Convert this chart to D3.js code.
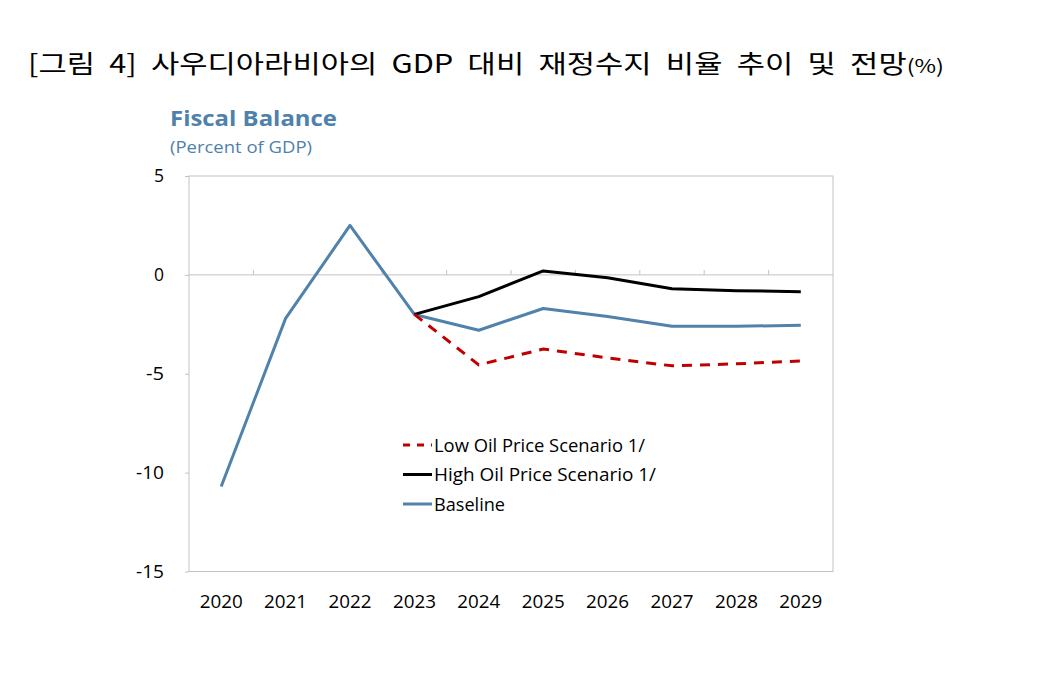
<!DOCTYPE html>
<html><head><meta charset="utf-8">
<script src="https://cdn.jsdelivr.net/npm/d3@7"></script>
<style>
body{margin:0;background:#fff;}
svg{display:block;}
</style></head>
<body><svg id="c" width="1060" height="681"></svg>
<script>
const years = ["2020","2021","2022","2023","2024","2025","2026","2027","2028","2029"];
const baseline = [-10.7,-2.2,2.5,-2.0,-2.8,-1.7,-2.1,-2.6,-2.6,-2.55];
const highOil = [null,null,null,-2.0,-1.1,0.2,-0.15,-0.7,-0.8,-0.85];
const lowOil = [null,null,null,-2.0,-4.55,-3.75,-4.2,-4.6,-4.5,-4.35];
const yTicks = [5,0,-5,-10,-15];
const legendLabels = ["Low Oil Price Scenario 1/","High Oil Price Scenario 1/","Baseline"];

const svg = d3.select("#c");
const L=189, R=833, T=176, B=571.5;
const x = d3.scaleBand().domain(years).range([L,R]);
const y = d3.scaleLinear().domain([-15,5]).range([B,T]);
const cx = d => x(d)+x.bandwidth()/2;
const FONT = "'Open Sans', sans-serif";

// title
const title = svg.append("text").attr("x",28).attr("y",73)
  .attr("font-family","'Noto Sans CJK KR', sans-serif").attr("font-size",25).attr("fill","#000")
  .attr("word-spacing",6)
  .attr("textLength",916).attr("lengthAdjust","spacingAndGlyphs");
title.append("tspan").text("[그림 4] 사우디아라비아의 GDP 대비 재정수지 비율 추이 및 전망");
title.append("tspan").attr("font-size",19).text("(%)");

svg.append("text").attr("x",170).attr("y",126).attr("font-family",FONT)
  .attr("font-weight","bold").attr("font-size",21).attr("fill","#4f81aa").attr("textLength",167).attr("lengthAdjust","spacingAndGlyphs").text("Fiscal Balance");
svg.append("text").attr("x",170).attr("y",153).attr("font-family",FONT)
  .attr("font-size",15.5).attr("fill","#4f81aa").attr("textLength",142).attr("lengthAdjust","spacingAndGlyphs").text("(Percent of GDP)");

// frame
svg.append("rect").attr("x",L).attr("y",T).attr("width",R-L).attr("height",B-T)
  .attr("fill","none").attr("stroke","#c3c3c3").attr("stroke-width",1);

// y axis
const yAxis = d3.axisLeft(y).tickValues(yTicks).tickSize(4).tickPadding(21).tickFormat(d3.format("d"));
const ya = svg.append("g").attr("transform",`translate(${L},0)`).call(yAxis);
ya.select(".domain").remove();
ya.selectAll("line").attr("stroke","#c3c3c3");
ya.selectAll("text").attr("font-family",FONT).attr("font-size",18.5).attr("fill","#000")
  .text(d=> d<0 ? "-"+Math.abs(d) : d)
  .attr("textLength",d=> d<0 ? (Math.abs(d)>=10 ? 28 : 18) : 10).attr("lengthAdjust","spacingAndGlyphs");

// zero line with category ticks
svg.append("line").attr("x1",L).attr("x2",R).attr("y1",y(0)).attr("y2",y(0)).attr("stroke","#c3c3c3");
svg.append("g").selectAll("line").data(years.slice(1)).join("line")
  .attr("x1",d=>x(d)).attr("x2",d=>x(d)).attr("y1",y(0)).attr("y2",y(0)-5).attr("stroke","#c3c3c3");

// x labels
const xb = d3.axisBottom(x).tickSize(0).tickPadding(23);
const xa = svg.append("g").attr("transform",`translate(0,${B})`).call(xb);
xa.select(".domain").remove();
xa.selectAll("text").attr("font-family",FONT).attr("font-size",18.5).attr("fill","#000")
  .attr("textLength",43).attr("lengthAdjust","spacingAndGlyphs");

const line = d3.line().defined(d=>d.v!=null).x(d=>cx(d.k)).y(d=>y(d.v));
const mk = arr => years.map((k,i)=>({k, v:arr[i]}));

svg.append("path").datum(mk(baseline)).attr("d",line).attr("fill","none")
  .attr("stroke","#5082ab").attr("stroke-width",3).attr("stroke-linejoin","round");
svg.append("path").datum(mk(highOil)).attr("d",line).attr("fill","none")
  .attr("stroke","#000").attr("stroke-width",3).attr("stroke-linejoin","round");
svg.append("path").datum(mk(lowOil)).attr("d",line).attr("fill","none")
  .attr("stroke","#c00000").attr("stroke-width",3).attr("stroke-dasharray","10,8");

// legend
const lg = svg.append("g");
const lstyles = [{c:"#c00000",d:"7,7"},{c:"#000",d:null},{c:"#5082ab",d:null}];
const lw = [211,222,71];
legendLabels.forEach((t,i)=>{
  const yy = 445 + i*29.5;
  lg.append("line").attr("x1",403).attr("x2",432).attr("y1",yy).attr("y2",yy)
    .attr("stroke",lstyles[i].c).attr("stroke-width",3).attr("stroke-dasharray",lstyles[i].d);
  lg.append("text").attr("x",434).attr("y",yy+6.5).attr("font-family",FONT)
    .attr("font-size",18.5).attr("fill","#000").attr("textLength",lw[i]).attr("lengthAdjust","spacingAndGlyphs").text(t);
});
</script></body></html>
